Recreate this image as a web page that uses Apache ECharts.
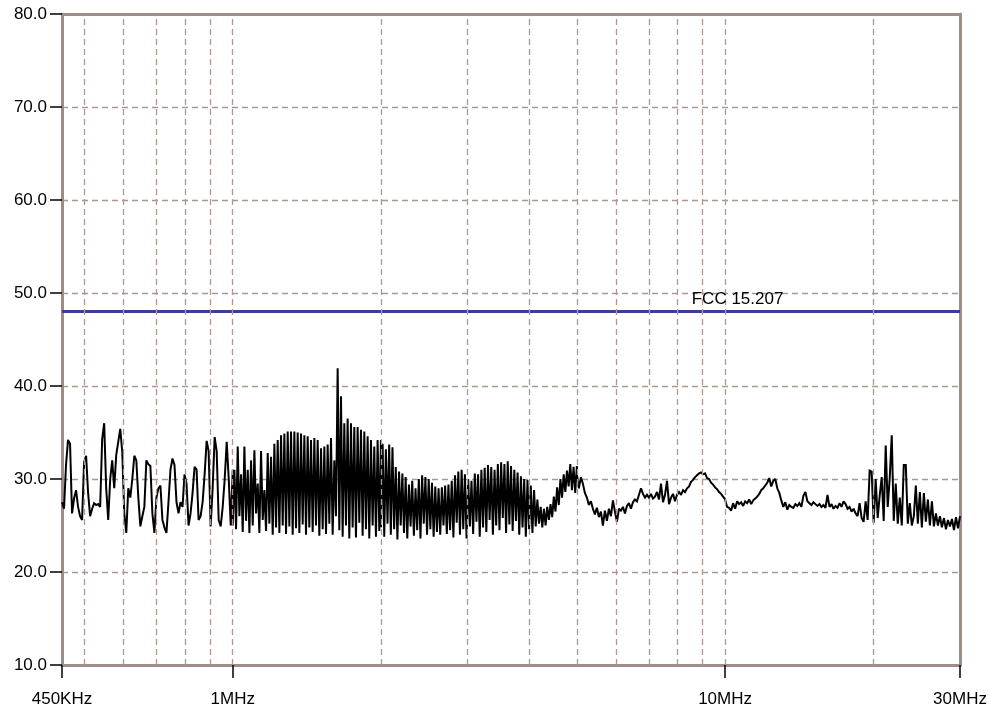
<!DOCTYPE html>
<html><head><meta charset="utf-8">
<script src="https://cdn.jsdelivr.net/npm/echarts@6/dist/echarts.min.js"></script>
<style>html,body{margin:0;padding:0;background:#fff}#c{width:990px;height:713px}</style>
</head><body><div id="c"></div>
<script>
// Sweep segments (MHz); each segment's levels are equally spaced on the log-frequency sweep
const bandEdges = [0.45, 1, 2, 5, 10, 30];

// 450 kHz - 1 MHz (dBuV)
const levelsA = [27.5, 26.8, 31.5, 34.2, 33.8, 26.3, 27.9, 28.8, 27.0, 26.0,
 25.6, 31.8, 32.5, 28.5, 26.0, 26.8, 27.4, 27.2, 27.3, 27.0,
 34.3, 36.0, 29.0, 25.6, 30.0, 32.0, 29.0, 32.6, 34.0, 35.4,
 32.9, 26.3, 24.2, 29.0, 28.0, 30.0, 32.5, 32.0, 28.0, 24.9,
 26.0, 27.0, 32.0, 31.6, 31.4, 26.3, 24.2, 28.0, 29.0, 29.3,
 25.6, 24.8, 24.2, 27.5, 31.0, 32.2, 31.5, 27.5, 26.3, 27.5,
 27.0, 30.5, 29.5, 25.0, 26.3, 28.5, 31.3, 31.0, 25.6, 26.0,
 27.5, 30.5, 34.1, 33.0, 24.9, 29.0, 34.5, 33.0, 25.6, 24.9,
 27.0, 30.0, 34.0, 30.0, 25.0, 31.0];

// 1 MHz - 2 MHz
const levelsB = [25.0,31.0, 24.6,33.5, 26.0,30.5, 24.3,33.5, 25.5,31.0, 24.2,32.0, 25.0,33.1, 26.3,29.5, 24.2,33.0, 25.6,28.8,
 24.4,32.8, 25.2,32.4, 24.0,33.8, 24.8,34.2, 24.2,34.7, 25.0,34.9, 24.1,35.1, 24.9,35.1, 24.0,35.1, 24.7,35.0,
 24.2,34.9, 25.1,34.7, 24.0,34.6, 24.8,34.2, 24.3,34.4, 25.0,34.2, 23.9,33.3, 24.6,33.5, 24.1,33.7, 25.2,34.4,
 24.0,32.0, 26.0,41.9, 24.5,38.9, 23.8,36.0, 25.0,36.5, 23.6,36.0, 24.8,35.6, 23.7,35.6, 25.3,35.3, 23.9,35.1,
 24.6,34.6, 23.6,34.2, 25.0,33.5, 23.8,34.2, 24.4,34.2];

// 2 MHz - 5 MHz
const levelsC = [24.8,33.8, 23.8,33.2, 25.2,33.7, 24.0,33.4, 24.6,31.3, 23.5,30.8, 25.0,30.6, 24.2,30.2, 23.6,29.4, 24.9,29.8,
 23.9,29.0, 24.5,30.0, 23.6,30.4, 25.2,30.2, 24.0,30.0, 24.6,29.6, 23.8,29.2, 24.3,29.0, 24.0,29.1, 25.0,29.3,
 24.1,29.4, 24.5,29.8, 23.7,30.4, 25.3,30.8, 24.0,31.0, 24.6,30.5, 23.6,30.0, 24.9,29.8, 24.1,30.6, 25.4,30.5,
 23.8,31.0, 24.8,31.2, 24.3,31.5, 25.6,31.3, 24.0,31.0, 25.0,31.6, 24.5,31.8, 25.8,31.6, 24.2,31.9, 25.1,31.4,
 24.4,31.0, 25.5,30.7, 24.0,30.3, 24.8,30.0, 23.8,29.9, 24.6,29.3, 24.2,28.8, 24.9,27.8, 25.2,27.0, 24.8,26.8,
 25.0,27.0, 25.6,27.3, 25.9,28.1, 26.5,29.1, 27.2,30.0, 28.0,30.5, 28.6,30.9, 29.2,31.6, 28.8,31.3, 28.5,31.4];

// 5 MHz - 10 MHz
const levelsD = [30.5, 29.0, 30.2, 29.5, 28.5, 28.0, 27.2, 27.6, 26.8, 26.2,
 26.9, 25.9, 26.5, 25.0, 26.6, 25.5, 26.8, 26.0, 27.7, 26.5,
 25.4, 26.8, 26.6, 27.0, 26.3, 27.1, 27.4, 26.8, 27.5, 27.8,
 27.6, 28.3, 29.0, 28.4, 28.0, 28.3, 28.0, 28.4, 27.9, 28.1,
 28.6, 27.8, 29.5, 27.5, 28.3, 29.8, 27.3, 28.0, 28.4, 27.6,
 28.3, 28.6, 28.3, 28.8, 28.6, 29.0, 29.2, 29.7, 29.9, 30.2,
 30.4, 30.6, 30.7, 30.5, 30.6, 30.1, 30.0, 29.6, 29.4, 29.1,
 28.9, 28.6, 28.4, 28.1, 27.8];

// 10 MHz - 30 MHz
const levelsE = [27.6, 27.0, 26.9, 26.6, 27.4, 26.8, 27.6, 27.3, 27.5, 27.1,
 27.6, 27.4, 27.8, 27.3, 27.7, 27.9, 28.1, 28.4, 28.8, 29.0,
 29.3, 29.6, 30.1, 29.2, 29.8, 30.0, 29.0, 28.5, 27.7, 27.0,
 27.5, 26.7, 27.2, 27.0, 26.9, 27.3, 27.1, 27.4, 27.0, 28.2,
 28.6, 27.6, 27.4, 27.2, 27.5, 27.3, 27.1, 27.3, 27.0, 27.2,
 26.9, 28.3, 27.0, 27.3, 26.8, 27.1, 26.9, 27.4, 27.0, 27.6,
 27.3, 26.8, 27.0, 26.5, 26.8, 26.3, 26.0, 27.4, 25.8, 25.4,
 27.6, 25.6, 30.9, 30.8, 25.3, 30.0, 25.8, 28.2, 30.2, 25.5,
 33.6, 27.0, 30.1, 34.7, 25.5, 29.5, 25.2, 28.0, 25.0, 31.5,
 31.5, 25.2, 27.4, 25.0, 26.0, 29.3, 25.2, 28.6, 24.8, 28.5,
 25.4, 27.8, 25.0, 27.6, 24.9, 26.3, 25.0, 26.0, 24.8, 25.8,
 24.6, 25.6, 24.9, 25.7, 24.5, 25.9, 24.7, 26.0];

const bandLevels = [levelsA, levelsB, levelsC, levelsD, levelsE];

const limitLevel = 48.0;
const limitName = 'FCC 15.207';
const limitLabelFreq = 10.6;

const gridFreqs = [0.5, 0.6, 0.7, 0.8, 0.9, 1, 2, 3, 4, 5, 6, 7, 8, 9, 10, 20];
const xTickVals = [0.45, 1, 10, 30];
const xTickLabels = ['450KHz', '1MHz', '10MHz', '30MHz'];
const yMin = 10, yMax = 80, yStep = 10;

function sweep(levels, f0, f1) {
  const n = levels.length;
  return levels.map((v, i) => [f0 * Math.pow(f1 / f0, i / (n - 1)), v]);
}
let trace = [];
bandLevels.forEach((lv, i) => { trace = trace.concat(sweep(lv, bandEdges[i], bandEdges[i + 1])); });

const frameColor = '#9e8c86';
const gridColor = '#ab9891';
const font = '"Liberation Sans", Arial, sans-serif';

const chart = echarts.init(document.getElementById('c'), null, {renderer: 'canvas'});
chart.setOption({
  animation: false,
  backgroundColor: '#ffffff',
  grid: {left: 62, right: 30, top: 14, bottom: 48, containLabel: false},
  xAxis: [{
    type: 'log', logBase: 10, min: bandEdges[0], max: bandEdges[bandEdges.length - 1],
    axisLine: {show: true, lineStyle: {color: frameColor, width: 3}},
    axisTick: {show: true, length: 13, lineStyle: {color: '#000', width: 1.5}},
    axisLabel: {
      show: true, showMinLabel: true, showMaxLabel: true, margin: 26,
      fontSize: 17, color: '#000', fontFamily: font,
      formatter: function (v) {
        for (let i = 0; i < xTickVals.length; i++) {
          if (Math.abs(Math.log10(v) - Math.log10(xTickVals[i])) < 0.01) return xTickLabels[i];
        }
        return '';
      }
    },
    splitLine: {show: false}, minorTick: {show: false}
  }, {
    type: 'log', logBase: 10, position: 'top', min: bandEdges[0], max: bandEdges[bandEdges.length - 1],
    axisLine: {show: true, lineStyle: {color: frameColor, width: 3}},
    axisTick: {show: false}, axisLabel: {show: false}, splitLine: {show: false}
  }],
  yAxis: [{
    type: 'value', min: yMin, max: yMax, interval: yStep,
    axisLine: {show: true, lineStyle: {color: frameColor, width: 3}},
    axisTick: {show: true, length: 12, lineStyle: {color: '#000', width: 1.5}},
    axisLabel: {margin: 15, fontSize: 17, color: '#000', fontFamily: font,
      formatter: v => v.toFixed(1)},
    splitLine: {show: true, lineStyle: {color: gridColor, width: 1.3, type: [6, 4]}}
  }, {
    type: 'value', position: 'right', min: yMin, max: yMax, interval: yStep,
    axisLine: {show: true, lineStyle: {color: frameColor, width: 3}},
    axisTick: {show: false}, axisLabel: {show: false}, splitLine: {show: false}
  }],
  series: [{
    name: 'grid', type: 'line', data: [], z: 1, silent: true,
    markLine: {
      silent: true, symbol: ['none', 'none'], animation: false,
      label: {show: false},
      lineStyle: {color: gridColor, width: 1.3, type: [6, 4]},
      data: gridFreqs.map(f => ({xAxis: f}))
    }
  }, {
    name: limitName, type: 'line', z: 3, silent: true, symbol: 'none',
    lineStyle: {color: '#3c3c9c', width: 3},
    data: [[bandEdges[0], limitLevel], [bandEdges[bandEdges.length - 1], limitLevel]]
  }, {
    name: limitName + ' label', type: 'scatter', z: 5, silent: true,
    symbolSize: 0, itemStyle: {color: '#3c3c9c', opacity: 1},
    label: {show: true, position: 'top', distance: 4, formatter: limitName,
      fontSize: 17, color: '#000000', opacity: 1, fontFamily: font},
    data: [[limitLabelFreq, limitLevel]]
  }, {
    name: 'trace', type: 'line', z: 4, symbol: 'none', silent: true,
    lineStyle: {color: '#000', width: 2, join: 'miter', miterLimit: 2},
    data: trace
  }]
});
</script>
</body></html>
